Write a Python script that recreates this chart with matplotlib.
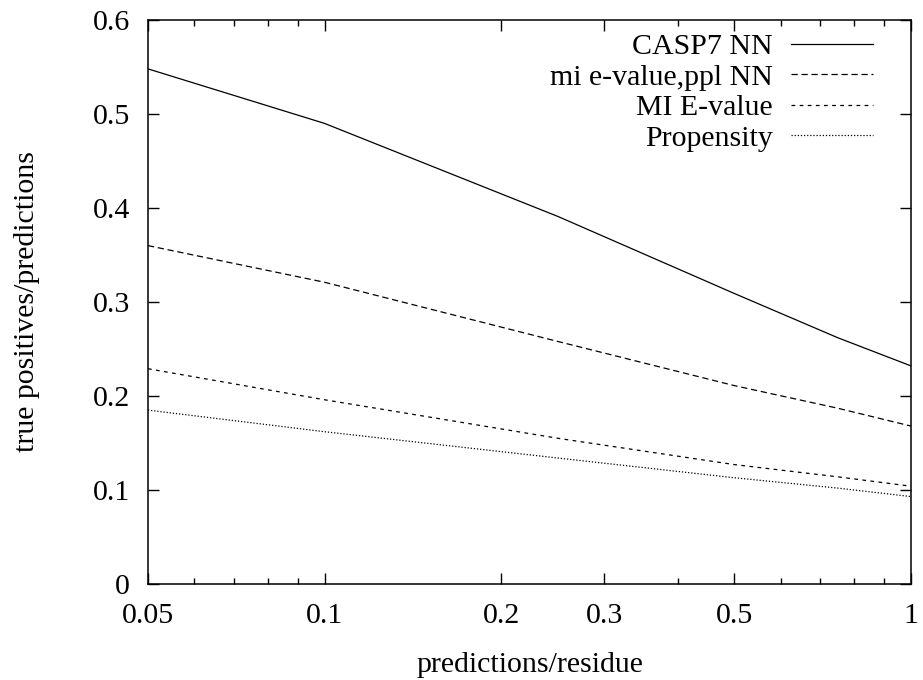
import matplotlib
matplotlib.use("Agg")
import matplotlib.pyplot as plt
from matplotlib.ticker import FixedLocator, NullFormatter, FixedFormatter

plt.rcParams['font.family'] = ['Liberation Serif', 'DejaVu Serif']

x = [0.05, 0.1, 0.25, 0.5, 0.75, 1.0]
casp7_nn = [0.548, 0.490, 0.391, 0.309, 0.262, 0.232]
mi_ppl_nn = [0.360, 0.321, 0.258, 0.211, 0.187, 0.168]
mi_evalue = [0.229, 0.196, 0.155, 0.127, 0.114, 0.104]
propensity = [0.185, 0.162, 0.134, 0.113, 0.102, 0.093]

labels = ["CASP7 NN", "mi e-value,ppl NN", "MI E-value", "Propensity"]
xticks = [0.05, 0.1, 0.2, 0.3, 0.5, 1]
xticklabels = ["0.05", "0.1", "0.2", "0.3", "0.5", "1"]
xminor = [0.06, 0.07, 0.08, 0.09, 0.4, 0.6, 0.7, 0.8, 0.9]
yticks = [0, 0.1, 0.2, 0.3, 0.4, 0.5, 0.6]
yticklabels = ["0", "0.1", "0.2", "0.3", "0.4", "0.5", "0.6"]

FS = 21.5

fig = plt.figure(figsize=(9.23, 6.8), dpi=100)
ax = fig.add_axes([0.1603, 0.1412, 0.987 - 0.1603, 0.9706 - 0.1412])

styles = [
    dict(linestyle='-'),
    dict(linestyle=(0, (5, 3))),
    dict(linestyle=(0, (3, 3.5))),
    dict(linestyle=(0, (1, 1.5))),
]
series = [casp7_nn, mi_ppl_nn, mi_evalue, propensity]
for ys, lab, st in zip(series, labels, styles):
    ax.plot(x, ys, color='black', lw=0.9, label=lab, **st)

ax.set_xscale('log')
ax.set_xlim(0.05, 1)
ax.set_ylim(0, 0.6)
ax.xaxis.set_major_locator(FixedLocator(xticks))
ax.xaxis.set_major_formatter(FixedFormatter(xticklabels))
ax.xaxis.set_minor_locator(FixedLocator(xminor))
ax.xaxis.set_minor_formatter(NullFormatter())
ax.set_yticks(yticks)
ax.set_yticklabels(yticklabels)

ax.tick_params(which='both', direction='in', top=True, right=True, labelsize=FS, width=1.0)
ax.tick_params(which='major', length=8)
ax.tick_params(which='minor', length=4)
ax.tick_params(axis='y', which='major', pad=13)
ax.tick_params(axis='x', which='major', pad=14)
for s in ax.spines.values():
    s.set_linewidth(1.1)

ax.set_xlabel("predictions/residue", fontsize=FS, labelpad=16)
ax.set_ylabel("true positives/predictions", fontsize=FS, labelpad=38)

leg = ax.legend(loc='upper right', frameon=False, markerfirst=False, fontsize=FS,
                handlelength=2.75, handletextpad=0.6, labelspacing=0.12,
                borderpad=0.0, borderaxespad=0.0, bbox_to_anchor=(0.95, 0.976))

fig.savefig("out.png", dpi=100)
